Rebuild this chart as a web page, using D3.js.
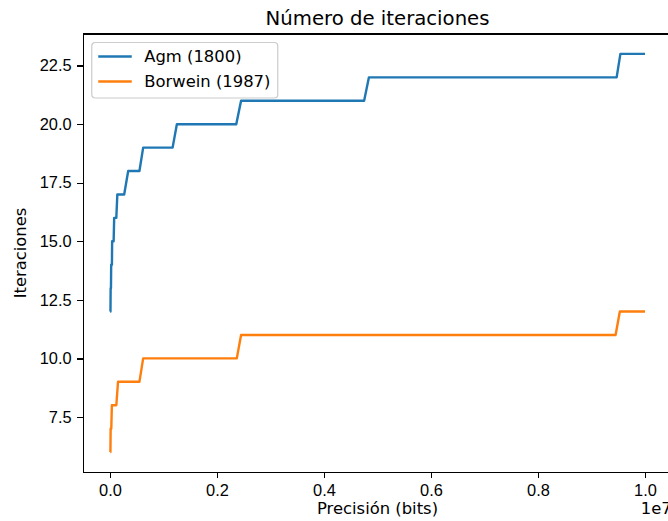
<!DOCTYPE html>
<html>
<head>
<meta charset="utf-8">
<script src="https://cdn.jsdelivr.net/npm/d3@7"></script>
<style>
  body { margin: 0; background: #fff; }
  svg { display: block; font-family: "DejaVu Sans", sans-serif; }
  .axis path, .axis line { stroke: #000; stroke-width: 1.3px; shape-rendering: crispEdges; }
  .axis text { font-size: 16.4px; fill: #000; }
</style>
</head>
<body>
<svg id="chart" width="668" height="521"></svg>
<script>
// precision (bits) at the corners of each step
const agmBits = [2000, 9000, 12000, 18000, 22000, 36000, 40000, 68000, 78000, 118000,
  137000, 265000, 340000, 550000, 620000, 1170000, 1250000, 2360000, 2450000,
  4750000, 4840000, 9470000, 9540000, 10000000];
const agmIter = [12, 12, 13, 13, 14, 14, 15, 15, 16, 16,
  17, 17, 18, 18, 19, 19, 20, 20, 21,
  21, 22, 22, 23, 23];

const borBits = [5000, 8000, 12000, 24000, 35000, 118000, 150000, 550000, 620000,
  2370000, 2450000, 9450000, 9530000, 10000000];
const borIter = [6, 6, 7, 7, 8, 8, 9, 9, 10,
  10, 11, 11, 12, 12];

const seriesNames = ["Agm (1800)", "Borwein (1987)"];
const seriesColors = ["#1f77b4", "#ff7f0e"];
const xTicks = [0, 2e6, 4e6, 6e6, 8e6, 1e7];
const yTicks = [7.5, 10, 12.5, 15, 17.5, 20, 22.5];

const margin = {top: 34, right: -3.75, bottom: 49, left: 83.25};
const W = 668, H = 521;
const width = W - margin.left - margin.right;
const height = H - margin.top - margin.bottom;

const svg = d3.select("#chart");
const g = svg.append("g").attr("transform", "translate(" + margin.left + "," + margin.top + ")");

const x = d3.scaleLinear().domain([-5e5, 1.05e7]).range([0, width]);
const y = d3.scaleLinear().domain([5.15, 23.85]).range([height, 0]);

const series = [
  {name: seriesNames[0], color: seriesColors[0], pts: d3.zip(agmBits, agmIter)},
  {name: seriesNames[1], color: seriesColors[1], pts: d3.zip(borBits, borIter)}
];

const line = d3.line().x(d => x(d[0])).y(d => y(d[1]));

g.selectAll(".series")
  .data(series)
  .enter().append("path")
    .attr("class", "series")
    .attr("fill", "none")
    .attr("stroke", d => d.color)
    .attr("stroke-width", 2.4)
    .attr("stroke-linejoin", "round")
    .attr("d", d => line(d.pts));

// axes
g.append("g")
    .attr("class", "axis")
    .attr("transform", "translate(0," + height + ")")
    .call(d3.axisBottom(x).tickValues(xTicks).tickFormat(d => (d / 1e7).toFixed(1))
      .tickSize(5.8).tickSizeOuter(0).tickPadding(5.8))
    .call(a => a.selectAll("text").attr("dy", "0.76em"));

g.append("g")
    .attr("class", "axis")
    .call(d3.axisLeft(y).tickValues(yTicks).tickFormat(d => d.toFixed(1))
      .tickSize(5.8).tickSizeOuter(0).tickPadding(5.8));

// top and right spines
g.append("line").attr("x1", 0).attr("x2", width).attr("y1", 0).attr("y2", 0)
  .attr("stroke", "#000").attr("stroke-width", 1.3).attr("shape-rendering", "crispEdges");
g.append("line").attr("x1", width).attr("x2", width).attr("y1", 0).attr("y2", height)
  .attr("stroke", "#000").attr("stroke-width", 1.3).attr("shape-rendering", "crispEdges");

// labels
svg.append("text")
  .attr("x", margin.left + width / 2).attr("y", 25)
  .attr("text-anchor", "middle").style("font-size", "19.7px")
  .text("Número de iteraciones");

svg.append("text")
  .attr("x", margin.left + width / 2).attr("y", 514)
  .attr("text-anchor", "middle").style("font-size", "16.4px")
  .text("Precisión (bits)");

svg.append("text")
  .attr("x", margin.left + width).attr("y", 514)
  .attr("text-anchor", "end").style("font-size", "16.4px")
  .text("1e7");

svg.append("text")
  .attr("transform", "translate(26," + (margin.top + height / 2) + ") rotate(-90)")
  .attr("text-anchor", "middle").style("font-size", "16.4px")
  .text("Iteraciones");

// legend
const legend = g.append("g").attr("transform", "translate(8.5,8.5)");
legend.append("rect")
  .attr("width", 186).attr("height", 55.5)
  .attr("rx", 3.5)
  .attr("fill", "#fff").attr("fill-opacity", 0.8)
  .attr("stroke", "#cccccc").attr("stroke-width", 1.2);

const item = legend.selectAll(".item")
  .data(series)
  .enter().append("g")
    .attr("class", "item")
    .attr("transform", (d, i) => "translate(0," + (14 + i * 25) + ")");

item.append("line")
  .attr("x1", 6.5).attr("x2", 40)
  .attr("stroke", d => d.color).attr("stroke-width", 2.4);

item.append("text")
  .attr("x", 52.5).attr("dy", "0.36em")
  .style("font-size", "16.4px")
  .text(d => d.name);
</script>
</body>
</html>
